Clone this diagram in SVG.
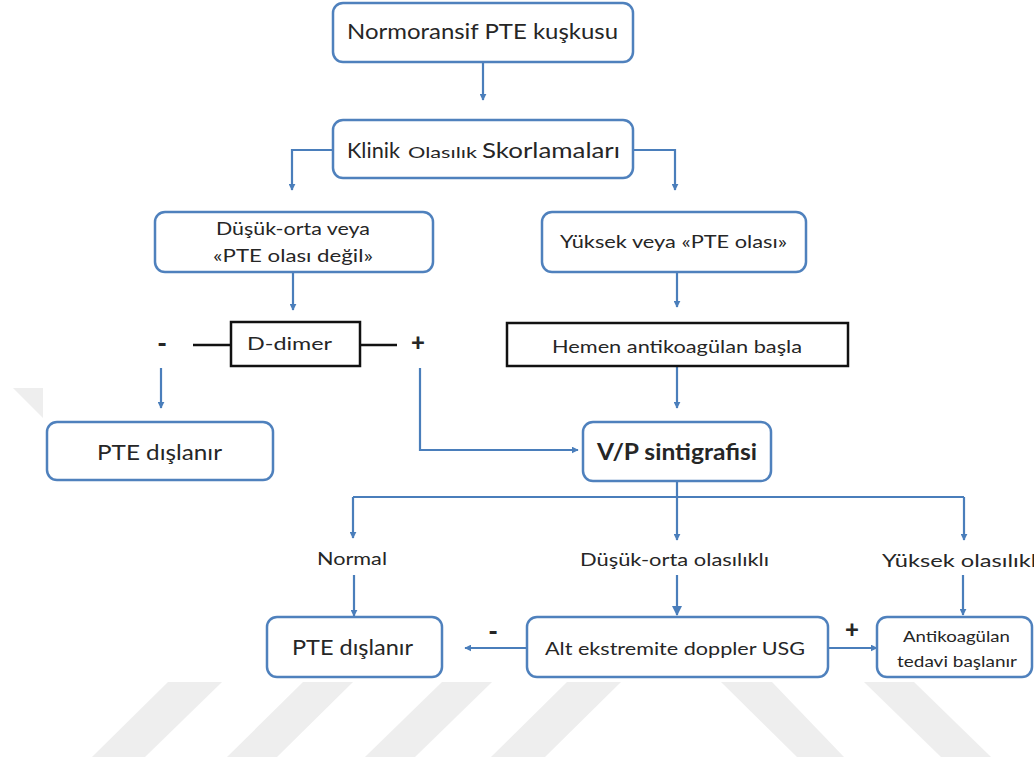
<svg xmlns="http://www.w3.org/2000/svg" width="1034" height="762" viewBox="0 0 1034 762">
<defs>
<marker id="ah" viewBox="0 0 10 10" refX="9" refY="5" markerWidth="7" markerHeight="7" markerUnits="userSpaceOnUse" orient="auto">
<path d="M0,0 L10,5 L0,10 z" fill="#4a7ebb"/>
</marker>
<marker id="ahL" viewBox="0 0 10 10" refX="9" refY="5" markerWidth="10" markerHeight="10" markerUnits="userSpaceOnUse" orient="auto">
<path d="M0,0 L10,5 L0,10 z" fill="#4a7ebb"/>
</marker>
<style>
.box{fill:#ffffff;stroke:#4f81bd;stroke-width:2.5}
.bbox{fill:#ffffff;stroke:#111111;stroke-width:2.5}
.c{fill:none;stroke:#4a7ebb;stroke-width:2.2}
.k{fill:none;stroke:#111111;stroke-width:2.5}
.t{font-family:Lato,"Open Sans","Liberation Sans",sans-serif;fill:#262626}
.wm{fill:#eeeeee}
</style>
</defs>
<rect width="1034" height="762" fill="#ffffff"/>
<g id="watermark">
<polygon class="wm" points="13,388 43,388 43,418"/>
<polygon class="wm" points="168,682 222,682 145,757 92,757"/>
<polygon class="wm" points="303,682 353,682 277,757 227,757"/>
<polygon class="wm" points="442,682 492,682 415,757 365,757"/>
<polygon class="wm" points="567,682 621,682 545,757 491,757"/>
<polygon class="wm" points="721,682 772,682 844,757 797,757"/>
<polygon class="wm" points="864,682 914,682 991,757 941,757"/>
</g>
<g id="connectors">
<path class="c" d="M483,62 V100" marker-end="url(#ah)"/>
<path class="c" d="M333,150 H292 V190" marker-end="url(#ah)"/>
<path class="c" d="M633,150 H675 V190" marker-end="url(#ah)"/>
<path class="c" d="M293,272 V310" marker-end="url(#ah)"/>
<path class="c" d="M677,272 V307" marker-end="url(#ah)"/>
<path class="k" d="M193,345 H231 M360,345 H397"/>
<path class="c" d="M161,368 V408" marker-end="url(#ah)"/>
<path class="c" d="M420,368 V450 H578" marker-end="url(#ah)"/>
<path class="c" d="M677,366 V408" marker-end="url(#ah)"/>
<path class="c" d="M677,482 V497 M353,497 H964"/>
<path class="c" d="M353,497 V538" marker-end="url(#ah)"/>
<path class="c" d="M677,497 V540" marker-end="url(#ah)"/>
<path class="c" d="M964,497 V540" marker-end="url(#ah)"/>
<path class="c" d="M354,575 V616" marker-end="url(#ah)"/>
<path class="c" d="M677,575 V615" marker-end="url(#ahL)"/>
<path class="c" d="M963,575 V615" marker-end="url(#ah)"/>
<path class="c" d="M527,648 H465" marker-end="url(#ah)"/>
<path class="c" d="M828,648 H877" marker-end="url(#ah)"/>
</g>
<g id="n1"><rect class="box" x="333" y="3" width="300" height="59" rx="10"/>
<text class="t" x="347" y="39" font-size="21" textLength="271" lengthAdjust="spacingAndGlyphs">Normoransif PTE kuşkusu</text></g>
<g id="n2"><rect class="box" x="333" y="120" width="300" height="58" rx="10"/>
<text class="t" y="158"><tspan x="347" font-size="21" textLength="53" lengthAdjust="spacingAndGlyphs">Klinik</tspan><tspan x="408" font-size="15" textLength="69" lengthAdjust="spacingAndGlyphs">Olasılık</tspan><tspan x="482" font-size="21" textLength="138" lengthAdjust="spacingAndGlyphs">Skorlamaları</tspan></text></g>
<g id="n3"><rect class="box" x="155" y="212" width="278" height="60" rx="10"/>
<text class="t" x="216" y="235" font-size="17" textLength="154" lengthAdjust="spacingAndGlyphs">Düşük-orta veya</text>
<text class="t" x="213" y="262" font-size="17" textLength="160" lengthAdjust="spacingAndGlyphs">«PTE olası değil»</text></g>
<g id="n4"><rect class="box" x="542" y="212" width="264" height="60" rx="10"/>
<text class="t" x="560" y="248" font-size="17" textLength="227" lengthAdjust="spacingAndGlyphs">Yüksek veya «PTE olası»</text></g>
<g id="n5"><rect class="bbox" x="231" y="322" width="129" height="44"/>
<text class="t" x="247" y="350" font-size="17" textLength="85" lengthAdjust="spacingAndGlyphs">D-dimer</text></g>
<g id="minus1"><text class="t" x="162" y="353" font-size="26" font-weight="900" text-anchor="middle" fill="#111">-</text></g>
<g id="plus1"><text class="t" x="418" y="351" font-size="24" font-weight="900" text-anchor="middle" fill="#111">+</text></g>
<g id="n6"><rect class="bbox" x="507" y="323" width="341" height="43"/>
<text class="t" x="552" y="353" font-size="17" textLength="250" lengthAdjust="spacingAndGlyphs">Hemen antikoagülan başla</text></g>
<g id="n7"><rect class="box" x="47" y="422" width="226" height="58" rx="10"/>
<text class="t" x="97" y="460" font-size="21" textLength="125" lengthAdjust="spacingAndGlyphs">PTE dışlanır</text></g>
<g id="n8"><rect class="box" x="583" y="422" width="188" height="59" rx="10"/>
<text class="t" x="597" y="460" font-size="23" font-weight="bold" textLength="160" lengthAdjust="spacingAndGlyphs">V/P sintigrafisi</text></g>
<g id="l1"><text class="t" x="317" y="565" font-size="17" textLength="70" lengthAdjust="spacingAndGlyphs">Normal</text></g>
<g id="l2"><text class="t" x="580" y="566" font-size="17" textLength="189" lengthAdjust="spacingAndGlyphs">Düşük-orta olasılıklı</text></g>
<g id="l3"><text class="t" x="882" y="567" font-size="17" textLength="160" lengthAdjust="spacingAndGlyphs">Yüksek olasılıklı</text></g>
<g id="n9"><rect class="box" x="267" y="617" width="175" height="60" rx="10"/>
<text class="t" x="292" y="655" font-size="21" textLength="121" lengthAdjust="spacingAndGlyphs">PTE dışlanır</text></g>
<g id="minus2"><text class="t" x="493" y="641" font-size="26" font-weight="900" text-anchor="middle" fill="#111">-</text></g>
<g id="n10"><rect class="box" x="527" y="617" width="301" height="60" rx="10"/>
<text class="t" x="545" y="655" font-size="17" textLength="260" lengthAdjust="spacingAndGlyphs">Alt ekstremite doppler USG</text></g>
<g id="plus2"><text class="t" x="852" y="638" font-size="24" font-weight="900" text-anchor="middle" fill="#111">+</text></g>
<g id="n11"><rect class="box" x="877" y="617" width="155" height="60" rx="10"/>
<text class="t" x="903" y="642" font-size="16" textLength="107" lengthAdjust="spacingAndGlyphs">Antikoagülan</text>
<text class="t" x="897" y="667" font-size="16" textLength="120" lengthAdjust="spacingAndGlyphs">tedavi başlanır</text></g>
</svg>
